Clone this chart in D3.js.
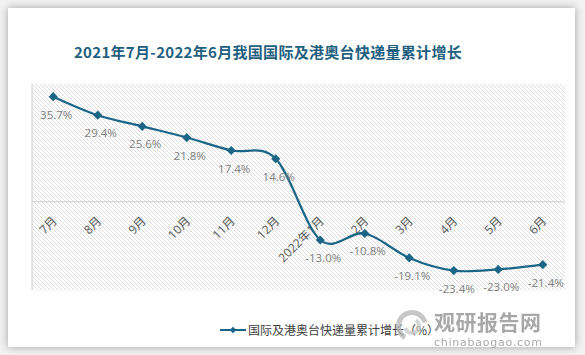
<!DOCTYPE html>
<html><head><meta charset="utf-8">
<script src="https://cdn.jsdelivr.net/npm/d3@7"></script>
<style>
html,body{margin:0;padding:0;background:#fff;}
svg{display:block;}
</style></head>
<body>
<svg id="c" width="585" height="355"></svg>
<script>
const categories = ["7月","8月","9月","10月","11月","12月","2022年1月","2月","3月","4月","5月","6月"];
const values = [35.7, 29.4, 25.6, 21.8, 17.4, 14.6, -13.0, -10.8, -19.1, -23.4, -23.0, -21.4];
const valueLabels = ["35.7%","29.4%","25.6%","21.8%","17.4%","14.6%","-13.0%","-10.8%","-19.1%","-23.4%","-23.0%","-21.4%"];
const titleText = "2021年7月-2022年6月我国国际及港奥台快递量累计增长";
const seriesName = "国际及港奥台快递量累计增长（%）";

const svg = d3.select("#c");
const defs = svg.append("defs");

const f = defs.append("filter").attr("id","sh").attr("x","-10%").attr("y","-10%").attr("width","120%").attr("height","120%");
f.append("feGaussianBlur").attr("in","SourceAlpha").attr("stdDeviation",4);
f.append("feOffset").attr("dx",0).attr("dy",0).attr("result","b");
f.append("feComponentTransfer").append("feFuncA").attr("type","linear").attr("slope",0.35);
const fm = f.append("feMerge"); fm.append("feMergeNode"); fm.append("feMergeNode").attr("in","SourceGraphic");

const pat = defs.append("pattern").attr("id","hatch").attr("patternUnits","userSpaceOnUse")
  .attr("width",4).attr("height",4);
pat.append("rect").attr("width",4).attr("height",4).attr("fill","#fff");
pat.append("path").attr("d","M0,0L4,4M-1,3L1,5M3,-1L5,1").attr("stroke","#d6d6d6").attr("stroke-width",0.8);

svg.append("rect").attr("x",0).attr("y",0).attr("width",585).attr("height",355).attr("fill","#f2f2f2");
svg.append("rect").attr("x",8).attr("y",8).attr("width",567).attr("height",339).attr("fill","#fff").attr("filter","url(#sh)");

const L = 31, R = 565, T = 84, B = 290;
const x = d3.scalePoint().domain(categories).range([L, R]).padding(0.5);
const y = d3.scaleLinear().domain([-30, 40]).range([B, T]);

svg.append("rect").attr("x",L+1).attr("y",T).attr("width",R-L-1).attr("height",B-T).attr("fill","url(#hatch)");
svg.append("line").attr("x1",L+1).attr("x2",L+1).attr("y1",T).attr("y2",B).attr("stroke","#d0d0d0").attr("stroke-width",1);
svg.append("line").attr("x1",L+1).attr("x2",R).attr("y1",y(0)).attr("y2",y(0)).attr("stroke","#d0d0d0").attr("stroke-width",1);

const fontFam = "'Noto Sans CJK SC','Noto Sans',sans-serif";
const color = "#1b6587";

const ax = svg.append("g").attr("transform",`translate(0,${y(0)})`)
  .call(d3.axisBottom(x).tickSize(0).tickPadding(0));
ax.select(".domain").remove();
ax.selectAll("text")
  .attr("font-family","'Open Sans','Noto Sans CJK SC',sans-serif")
  .attr("font-size",12).attr("fill","#595959")
  .attr("text-anchor","end").attr("dy",0)
  .attr("transform","translate(4,20) rotate(-45)");

const line = d3.line().x((d,i)=>x(categories[i])).y(d=>y(d)).curve(d3.curveCardinal.tension(0));
svg.append("path").datum(values).attr("d",line).attr("fill","none").attr("stroke",color).attr("stroke-width",2.2);

const sym = d3.symbol().type(d3.symbolSquare).size(42);
svg.append("g").selectAll("path").data(values).join("path")
  .attr("d",sym).attr("fill",color)
  .attr("transform",(d,i)=>`translate(${x(categories[i])},${y(d)}) rotate(45)`);

svg.append("g").selectAll("text").data(values).join("text")
  .attr("x",(d,i)=>x(categories[i])+3).attr("y",d=>y(d)+22)
  .attr("text-anchor","middle").attr("font-family","'Open Sans','Noto Sans',sans-serif")
  .attr("font-size",11.5).attr("fill","#808080")
  .text((d,i)=>valueLabels[i]);

svg.append("text").attr("x",268).attr("y",58).attr("text-anchor","middle")
  .attr("font-family",fontFam).attr("font-weight","bold").attr("font-size",15)
  .attr("fill","#1f5f80").attr("letter-spacing",0.3).text(titleText);

svg.append("line").attr("x1",220).attr("x2",246).attr("y1",330).attr("y2",330).attr("stroke",color).attr("stroke-width",2);
svg.append("path").attr("d",d3.symbol().type(d3.symbolSquare).size(22)).attr("fill",color)
  .attr("transform","translate(233,330) rotate(45)");
svg.append("text").attr("x",248).attr("y",334.5).attr("font-family",fontFam).attr("font-size",12)
  .attr("fill","#404040").text(seriesName);

const wm = svg.append("g").attr("opacity",0.75);
wm.append("path").attr("d",d3.arc()({innerRadius:11,outerRadius:16,startAngle:-2.6,endAngle:1.3}))
  .attr("transform","translate(412,326)").attr("fill","#b5b5b5");
wm.append("path").attr("d",d3.arc()({innerRadius:5,outerRadius:9,startAngle:0.6,endAngle:4.4}))
  .attr("transform","translate(412,326)").attr("fill","#c8c8c8");
wm.append("text").attr("x",434).attr("y",330).attr("font-family",fontFam).attr("font-weight","bold")
  .attr("font-size",21).attr("fill","#8c8c8c").attr("letter-spacing",0.5).text("观研报告网");
wm.append("text").attr("x",434).attr("y",346).attr("font-family","'DejaVu Sans',sans-serif")
  .attr("font-size",11).attr("fill","#8c8c8c").attr("textLength",108).text("chinabaogao.com");
</script>
</body></html>
